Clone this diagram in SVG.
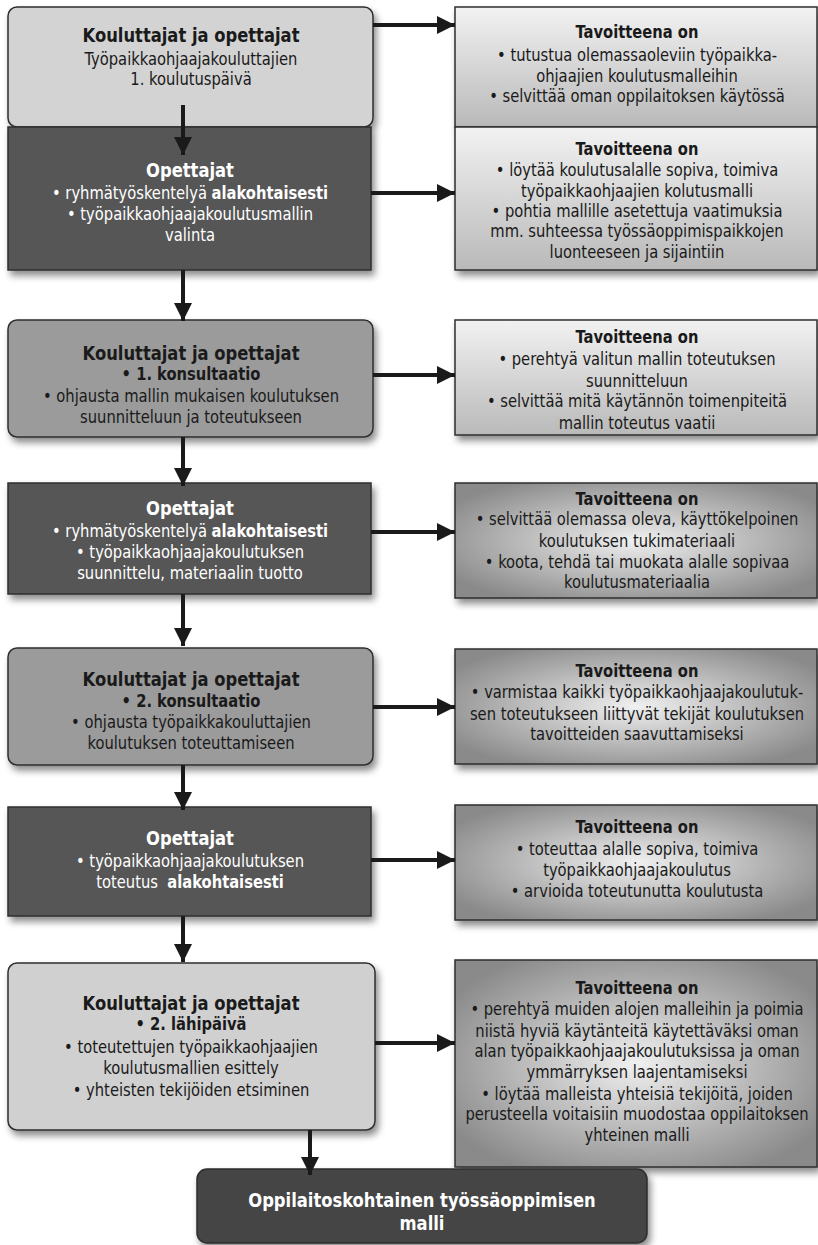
<svg xmlns="http://www.w3.org/2000/svg" width="818" height="1245" viewBox="0 0 818 1245">
<defs>
<style>
text{font-family:"DejaVu Sans Condensed","Liberation Sans Narrow","Liberation Sans",sans-serif;text-anchor:middle;font-size:18px;fill:#1a1a1a}
.t{font-weight:bold;font-size:20px}
.rt{font-weight:bold;font-size:18px}
.b{font-weight:bold}
.w{fill:#ffffff}
.box{stroke:#2e2e2e;stroke-width:1.5;filter:url(#sh)}
.arr{stroke:#1a1a1a;stroke-width:4;fill:none}
</style>
<filter id="sh" x="-10%" y="-10%" width="125%" height="135%">
<feDropShadow dx="3" dy="5" stdDeviation="3.5" flood-color="#000" flood-opacity="0.45"/>
</filter>
<linearGradient id="lg" x1="0" y1="0" x2="0" y2="1">
<stop offset="0" stop-color="#f2f2f2"/>
<stop offset="1" stop-color="#b9b9b9"/>
</linearGradient>
<radialGradient id="rg" cx="0.5" cy="0.5" r="0.6">
<stop offset="0" stop-color="#f0f0f0"/>
<stop offset="1" stop-color="#8a8a8a"/>
</radialGradient>
<marker id="ah" viewBox="0 0 10 10" refX="10" refY="5" markerWidth="5.5" markerHeight="4.5" markerUnits="strokeWidth" orient="auto">
<path d="M0,0 L10,5 L0,10 Z" fill="#1a1a1a"/>
</marker>
</defs>
<rect width="818" height="1245" fill="#ffffff"/>

<g id="r1"><rect class="box" x="455" y="7" width="362" height="120" fill="url(#lg)"/>
<g transform="translate(637,0) scale(0.91,1)">
<text class="rt" y="38">Tavoitteena on</text>
<text y="61">• tutustua olemassaoleviin työpaikka-</text>
<text y="82">ohjaajien koulutusmalleihin</text>
<text y="102">• selvittää oman oppilaitoksen käytössä</text></g></g>

<g id="r2"><rect class="box" x="455" y="127" width="362" height="143" fill="url(#lg)"/>
<g transform="translate(637,0) scale(0.91,1)">
<text class="rt" y="155">Tavoitteena on</text>
<text y="176">• löytää koulutusalalle sopiva, toimiva</text>
<text y="197">työpaikkaohjaajien kolutusmalli</text>
<text y="217">• pohtia mallille asetettuja vaatimuksia</text>
<text y="237">mm. suhteessa työssäoppimispaikkojen</text>
<text y="258">luonteeseen ja sijaintiin</text></g></g>

<g id="r3"><rect class="box" x="455" y="320" width="362" height="115" fill="url(#lg)"/>
<g transform="translate(637,0) scale(0.91,1)">
<text class="rt" y="343">Tavoitteena on</text>
<text y="365">• perehtyä valitun mallin toteutuksen</text>
<text y="387">suunnitteluun</text>
<text y="407">• selvittää mitä käytännön toimenpiteitä</text>
<text y="429">mallin toteutus vaatii</text></g></g>

<g id="r4"><rect class="box" x="455" y="483" width="362" height="115" fill="url(#rg)"/>
<g transform="translate(637,0) scale(0.91,1)">
<text class="rt" y="505">Tavoitteena on</text>
<text y="525">• selvittää olemassa oleva, käyttökelpoinen</text>
<text y="547">koulutuksen tukimateriaali</text>
<text y="568">• koota, tehdä tai muokata alalle sopivaa</text>
<text y="588">koulutusmateriaalia</text></g></g>

<g id="r5"><rect class="box" x="455" y="649" width="362" height="115" fill="url(#rg)"/>
<g transform="translate(637,0) scale(0.91,1)">
<text class="rt" y="677">Tavoitteena on</text>
<text y="698">• varmistaa kaikki työpaikkaohjaajakoulutuk-</text>
<text y="720">sen toteutukseen liittyvät tekijät koulutuksen</text>
<text y="740">tavoitteiden saavuttamiseksi</text></g></g>

<g id="r6"><rect class="box" x="455" y="805" width="362" height="115" fill="url(#rg)"/>
<g transform="translate(637,0) scale(0.91,1)">
<text class="rt" y="833">Tavoitteena on</text>
<text y="855">• toteuttaa alalle sopiva, toimiva</text>
<text y="876">työpaikkaohjaajakoulutus</text>
<text y="897">• arvioida toteutunutta koulutusta</text></g></g>

<g id="r7"><rect class="box" x="455" y="960" width="362" height="207" fill="url(#rg)"/>
<g transform="translate(637,0) scale(0.91,1)">
<text class="rt" y="994">Tavoitteena on</text>
<text y="1015">• perehtyä muiden alojen malleihin ja poimia</text>
<text y="1037">niistä hyviä käytänteitä käytettäväksi oman</text>
<text y="1057">alan työpaikkaohjaajakoulutuksissa ja oman</text>
<text y="1078">ymmärryksen laajentamiseksi</text>
<text y="1100">• löytää malleista yhteisiä tekijöitä, joiden</text>
<text y="1120">perusteella voitaisiin muodostaa oppilaitoksen</text>
<text y="1141">yhteinen malli</text></g></g>

<g id="n1"><rect class="box" x="8" y="7" width="365" height="120" rx="9" fill="#d3d3d3"/>
<g transform="translate(191,0) scale(0.91,1)">
<text class="t" y="42">Kouluttajat ja opettajat</text>
<text y="65">Työpaikkaohjaajakouluttajien</text>
<text y="85">1. koulutuspäivä</text></g></g>

<g id="n2"><rect class="box" x="8" y="127" width="363" height="143" fill="#565656"/>
<g transform="translate(190,0) scale(0.91,1)">
<text class="t w" y="177">Opettajat</text>
<text class="w" y="199">• ryhmätyöskentelyä <tspan class="b">alakohtaisesti</tspan></text>
<text class="w" y="220">• työpaikkaohjaajakoulutusmallin</text>
<text class="w" y="241">valinta</text></g></g>

<g id="n3"><rect class="box" x="8" y="320" width="365" height="117" rx="9" fill="#9b9b9b"/>
<g transform="translate(191,0) scale(0.91,1)">
<text class="t" y="360">Kouluttajat ja opettajat</text>
<text class="b" y="380">• 1. konsultaatio</text>
<text y="402">• ohjausta mallin mukaisen koulutuksen</text>
<text y="423">suunnitteluun ja toteutukseen</text></g></g>

<g id="n4"><rect class="box" x="8" y="483" width="363" height="111" fill="#565656"/>
<g transform="translate(190,0) scale(0.91,1)">
<text class="t w" y="515">Opettajat</text>
<text class="w" y="537">• ryhmätyöskentelyä <tspan class="b">alakohtaisesti</tspan></text>
<text class="w" y="558">• työpaikkaohjaajakoulutuksen</text>
<text class="w" y="579">suunnittelu, materiaalin tuotto</text></g></g>

<g id="n5"><rect class="box" x="8" y="648" width="365" height="117" rx="9" fill="#9b9b9b"/>
<g transform="translate(191,0) scale(0.91,1)">
<text class="t" y="686">Kouluttajat ja opettajat</text>
<text class="b" y="707">• 2. konsultaatio</text>
<text y="728">• ohjausta työpaikkakouluttajien</text>
<text y="749">koulutuksen toteuttamiseen</text></g></g>

<g id="n6"><rect class="box" x="8" y="807" width="363" height="109" fill="#565656"/>
<g transform="translate(190,0) scale(0.91,1)">
<text class="t w" y="845">Opettajat</text>
<text class="w" y="867">• työpaikkaohjaajakoulutuksen</text>
<text class="w" y="888" xml:space="preserve">toteutus  <tspan class="b">alakohtaisesti</tspan></text></g></g>

<g id="n7"><rect class="box" x="8" y="963" width="367" height="167" rx="9" fill="#d0d0d0"/>
<g transform="translate(191,0) scale(0.91,1)">
<text class="t" y="1010">Kouluttajat ja opettajat</text>
<text class="b" y="1030">• 2. lähipäivä</text>
<text y="1053">• toteutettujen työpaikkaohjaajien</text>
<text y="1074">koulutusmallien esittely</text>
<text y="1096">• yhteisten tekijöiden etsiminen</text></g></g>

<g id="n8"><rect class="box" x="197" y="1169" width="450" height="74" rx="10" fill="#444444"/>
<g transform="translate(422,0) scale(0.91,1)">
<text class="t w" y="1207">Oppilaitoskohtainen työssäoppimisen</text>
<text class="t w" y="1230">malli</text></g></g>

<g id="connectors">
<line class="arr" x1="183" y1="105" x2="183" y2="155" marker-end="url(#ah)"/>
<line class="arr" x1="183" y1="270" x2="183" y2="321" marker-end="url(#ah)"/>
<line class="arr" x1="183" y1="437" x2="183" y2="486" marker-end="url(#ah)"/>
<line class="arr" x1="183" y1="594" x2="183" y2="646" marker-end="url(#ah)"/>
<line class="arr" x1="183" y1="765" x2="183" y2="810" marker-end="url(#ah)"/>
<line class="arr" x1="183" y1="916" x2="183" y2="962" marker-end="url(#ah)"/>
<line class="arr" x1="310" y1="1130" x2="310" y2="1175" marker-end="url(#ah)"/>
<line class="arr" x1="373" y1="25" x2="455" y2="25" marker-end="url(#ah)"/>
<line class="arr" x1="371" y1="193" x2="455" y2="193" marker-end="url(#ah)"/>
<line class="arr" x1="373" y1="375" x2="455" y2="375" marker-end="url(#ah)"/>
<line class="arr" x1="371" y1="532" x2="455" y2="532" marker-end="url(#ah)"/>
<line class="arr" x1="373" y1="707" x2="455" y2="707" marker-end="url(#ah)"/>
<line class="arr" x1="371" y1="860" x2="455" y2="860" marker-end="url(#ah)"/>
<line class="arr" x1="375" y1="1043" x2="455" y2="1043" marker-end="url(#ah)"/>
</g>
</svg>
